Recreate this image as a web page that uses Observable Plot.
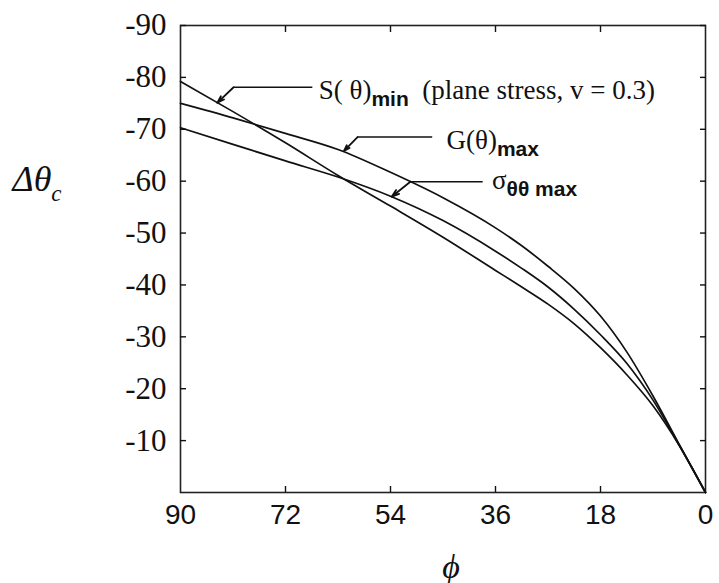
<!DOCTYPE html>
<html><head><meta charset="utf-8">
<script src="https://cdn.jsdelivr.net/npm/d3@7"></script>
<script src="https://cdn.jsdelivr.net/npm/@observablehq/plot@0.6"></script>
<style>
body{margin:0;background:#fff;}
#chart svg{display:block;background:#fff;}
</style></head><body><div id="chart"></div>
<script>
// φ (degrees) and Δθc values for the three criteria
const phi    = [90, 81, 72, 63, 54, 45, 36, 31.5, 27, 22.5, 18, 13.5, 9, 4.5, 0];
const sMin   = [-79.2, -73.4, -67.4, -61.1, -55.2, -49.2, -42.8, -39.6, -36.3, -32.5, -27.9, -22.7, -16.7, -9.05, 0];
const gMax   = [-75.0, -72.2, -69.2, -66.1, -61.7, -56.8, -51.0, -47.55, -43.6, -39.3, -34.0, -27.1, -18.6, -9.25, 0];
const sigMax = [-70.3, -67.1, -63.9, -60.8, -57.1, -52.4, -46.5, -43.2, -39.6, -35.3, -30.4, -24.9, -17.8, -9.1, 0];
const seriesNames = ["S(θ)min", "G(θ)max", "σθθmax"];

const xTicks = [90, 72, 54, 36, 18, 0];
const xInnerTicks = [72, 54, 36, 18];
const yTicks = [-90, -80, -70, -60, -50, -40, -30, -20, -10];

// annotation labels (positions in data units: φ, Δθc)
const labelMain = ["S( θ)", "G(θ)", "σ"];
const labelSub  = ["min", "max", "θθ max"];
const labelTail = ["  (plane stress, v = 0.3)", "", ""];
const labelPhi  = [66.3, 44.4, 36.6];
const labelVal  = [-77.5, -67.9, -60.2];
const tipPhi    = [83.7, 62.0, 53.8];
const tipVal    = [-75.1, -65.8, -57.0];
const elbowPhi  = [80.9, 59.65, 50.6];
const elbowVal  = [-78.1, -68.5, -59.9];
const endPhi    = [67.4, 46.85, 38.2];

const xLabel = "ϕ";
const yLabelMain = "Δθ";
const yLabelSub = "c";

const seriesValues = [sMin, gMax, sigMax];
const rows = [];
seriesValues.forEach((vals, s) => phi.forEach((p, i) => rows.push({phi: p, value: vals[i], series: seriesNames[s]})));
const idx = d3.range(labelMain.length);

const serif = "'Liberation Serif', 'Times New Roman', serif";
const sans = "'Liberation Sans', Arial, sans-serif";
const tk = 6;

const chart = Plot.plot({
  width: 719,
  height: 583,
  marginLeft: 180,
  marginRight: 14,
  marginTop: 25,
  marginBottom: 91,
  x: {domain: [90, 0], label: null},
  y: {domain: [0, -90], label: null},
  style: {background: "#fff", color: "#111"},
  marks: [
    Plot.frame({stroke: "#222", strokeWidth: 1.6}),
    Plot.axisY(yTicks, {anchor: "left", tickSize: 0, tickPadding: 14, fontSize: 31, fontFamily: serif, tickFormat: d => String(d), label: null}),
    Plot.axisY(yTicks, {anchor: "left", tickSize: tk, dx: tk, tickFormat: () => "", label: null, strokeWidth: 1.4}),
    Plot.axisY(yTicks, {anchor: "right", tickSize: tk, dx: -tk, tickFormat: () => "", label: null, strokeWidth: 1.4}),
    Plot.axisX(xTicks, {anchor: "bottom", tickSize: 0, tickPadding: 12, fontSize: 28, fontFamily: sans, tickFormat: d => String(d), label: null}),
    Plot.axisX(xInnerTicks, {anchor: "bottom", tickSize: tk, dy: -tk, tickFormat: () => "", label: null, strokeWidth: 1.4}),
    Plot.axisX(xInnerTicks, {anchor: "top", tickSize: tk, dy: tk, tickFormat: () => "", label: null, strokeWidth: 1.4}),
    Plot.line(rows, {x: "phi", y: "value", z: "series", stroke: "#111", strokeWidth: 1.7, curve: "monotone-x"}),
    Plot.link(idx, {x1: elbowPhi, y1: elbowVal, x2: endPhi, y2: elbowVal, stroke: "#111", strokeWidth: 1.4}),
    Plot.arrow(idx, {x1: elbowPhi, y1: elbowVal, x2: tipPhi, y2: tipVal, stroke: "#111", strokeWidth: 1.8, headLength: 7, headAngle: 35}),
    Plot.text(idx, {x: labelPhi, y: labelVal, text: i => labelMain[i], textAnchor: "start", fontSize: 27, fontFamily: serif, fill: "#111"}),
    Plot.text([0], {frameAnchor: "left", text: [yLabelMain], textAnchor: "start", dx: -168, dy: -80, fontSize: 36, fontStyle: "italic", fontFamily: serif, fill: "#111"}),
    Plot.text([0], {frameAnchor: "bottom", text: [xLabel], dx: 8, dy: 85, fontSize: 34, fontStyle: "italic", fontFamily: serif, fill: "#111"})
  ]
});

// rich text: subscripts
d3.select(chart).selectAll("text").each(function() {
  const t = this.textContent;
  const i = labelMain.indexOf(t);
  const sel = d3.select(this);
  if (i >= 0) {
    sel.text(null);
    sel.append("tspan").text(labelMain[i]);
    sel.append("tspan").attr("dy", 7).attr("font-family", sans).attr("font-weight", "bold").attr("font-size", 21).text(labelSub[i]);
    if (labelTail[i]) sel.append("tspan").attr("dy", -7).text(labelTail[i]);
  } else if (t === yLabelMain) {
    sel.text(null);
    sel.append("tspan").text(yLabelMain);
    sel.append("tspan").attr("dy", 10).attr("font-size", 23).text(yLabelSub);
  }
});

document.getElementById("chart").appendChild(chart);
</script>
</body></html>
